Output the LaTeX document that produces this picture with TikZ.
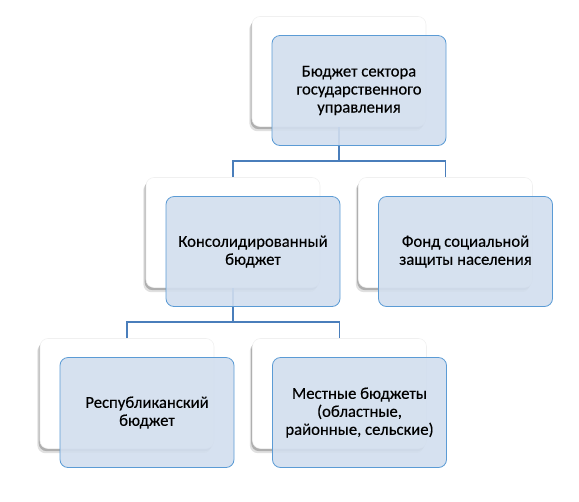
\documentclass[tikz,border=0pt]{standalone}
\usepackage{fontspec}
\setmainfont[FakeBold=0.3]{Carlito}
\usepackage{tikz}
\usetikzlibrary{shadows}

\definecolor{boxline}{HTML}{5B9BD5}
\definecolor{boxfill}{HTML}{D2DEEE}
\definecolor{connline}{HTML}{4A7EBB}

\begin{document}
\begin{tikzpicture}[x=0.75pt,y=-0.75pt,
backbox/.style={rectangle,rounded corners=6pt,draw=black!6,fill=white,minimum width=130.5pt,minimum height=82.5pt,
   drop shadow={shadow xshift=-2pt,shadow yshift=-3.5pt,opacity=0.12,fill=black},
   drop shadow={shadow xshift=-1pt,shadow yshift=-2pt,opacity=0.22,fill=black}},
frontbox/.style={rectangle,rounded corners=6pt,draw=boxline,line width=0.6pt,fill=boxfill,fill opacity=0.9,
   text opacity=1,minimum width=130.5pt,minimum height=82.5pt,align=center,inner sep=2pt,
   font=\fontsize{12.5}{13.5}\selectfont,xshift=15pt,yshift=-14.25pt},
conn/.style={draw=connline,line width=1.2pt}]
\useasboundingbox (0,0) rectangle (579,501);
% forks
\coordinate (forkA) at (339,161);
\coordinate (forkB) at (233,322);
% back boxes
\node[backbox] (govW) at (339,71.5) {};
\node[backbox] (consW) at (233,232.5) {};
\node[backbox] (fundW) at (445.5,232.5) {};
\node[backbox] (repW) at (127,393.5) {};
\node[backbox] (locW) at (339.5,393.5) {};
% connectors
\draw[conn] (govW.south) -- (forkA);
\draw[conn] (consW.north) |- (forkA) -| (fundW.north);
\draw[conn] (consW.south) -- (forkB);
\draw[conn] (repW.north) |- (forkB) -| (locW.north);
% front boxes
\node[frontbox] (gov) at (govW) {Бюджет сектора\\государственного\\управления};
\node[frontbox] (cons) at (consW) {Консолидированный\\бюджет};
\node[frontbox] (fund) at (fundW) {Фонд социальной\\защиты населения};
\node[frontbox] (rep) at (repW) {Республиканский\\бюджет};
\node[frontbox] (loc) at (locW) {Местные бюджеты\\(областные,\\районные, сельские)};
\end{tikzpicture}
\end{document}
